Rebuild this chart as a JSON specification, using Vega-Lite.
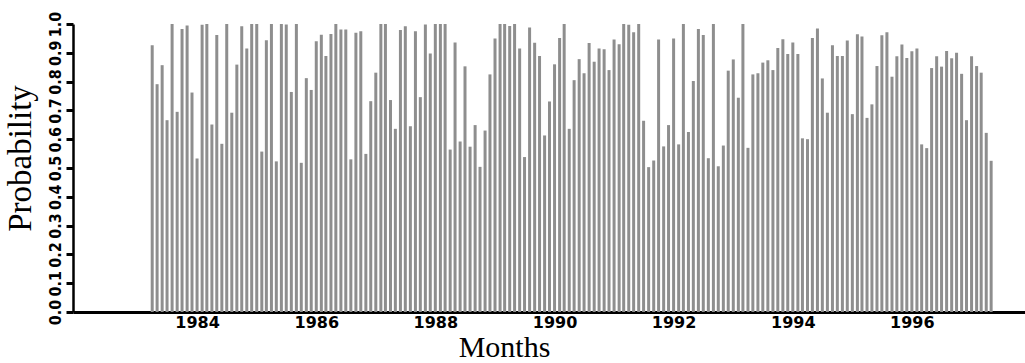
{
  "$schema": "https://vega.github.io/schema/vega-lite/v6.json",
  "width": 952,
  "height": 288,
  "autosize": {"type": "none"},
  "padding": {"left": 73, "top": 24, "right": 0, "bottom": 51},
  "background": "white",
  "view": {"stroke": null},
  "data": {
    "values": [
      {"month": "1983-04-01", "p": 0.926}, {"month": "1983-05-01", "p": 0.791}, {"month": "1983-06-01", "p": 0.857},
      {"month": "1983-07-01", "p": 0.666}, {"month": "1983-08-01", "p": 1.0}, {"month": "1983-09-01", "p": 0.695},
      {"month": "1983-10-01", "p": 0.983}, {"month": "1983-11-01", "p": 0.995}, {"month": "1983-12-01", "p": 0.762},
      {"month": "1984-01-01", "p": 0.533}, {"month": "1984-02-01", "p": 0.997}, {"month": "1984-03-01", "p": 1.0},
      {"month": "1984-04-01", "p": 0.651}, {"month": "1984-05-01", "p": 0.962}, {"month": "1984-06-01", "p": 0.584},
      {"month": "1984-07-01", "p": 1.0}, {"month": "1984-08-01", "p": 0.692}, {"month": "1984-09-01", "p": 0.859},
      {"month": "1984-10-01", "p": 0.992}, {"month": "1984-11-01", "p": 0.915}, {"month": "1984-12-01", "p": 1.0},
      {"month": "1985-01-01", "p": 1.0}, {"month": "1985-02-01", "p": 0.557}, {"month": "1985-03-01", "p": 0.944},
      {"month": "1985-04-01", "p": 1.0}, {"month": "1985-05-01", "p": 0.523}, {"month": "1985-06-01", "p": 1.0},
      {"month": "1985-07-01", "p": 0.998}, {"month": "1985-08-01", "p": 0.764}, {"month": "1985-09-01", "p": 1.0},
      {"month": "1985-10-01", "p": 0.518}, {"month": "1985-11-01", "p": 0.812}, {"month": "1985-12-01", "p": 0.771},
      {"month": "1986-01-01", "p": 0.94}, {"month": "1986-02-01", "p": 0.963}, {"month": "1986-03-01", "p": 0.889},
      {"month": "1986-04-01", "p": 0.965}, {"month": "1986-05-01", "p": 1.0}, {"month": "1986-06-01", "p": 0.981},
      {"month": "1986-07-01", "p": 0.981}, {"month": "1986-08-01", "p": 0.53}, {"month": "1986-09-01", "p": 0.97},
      {"month": "1986-10-01", "p": 0.975}, {"month": "1986-11-01", "p": 0.549}, {"month": "1986-12-01", "p": 0.732},
      {"month": "1987-01-01", "p": 0.831}, {"month": "1987-02-01", "p": 1.0}, {"month": "1987-03-01", "p": 1.0},
      {"month": "1987-04-01", "p": 0.736}, {"month": "1987-05-01", "p": 0.636}, {"month": "1987-06-01", "p": 0.979},
      {"month": "1987-07-01", "p": 0.992}, {"month": "1987-08-01", "p": 0.645}, {"month": "1987-09-01", "p": 0.975},
      {"month": "1987-10-01", "p": 0.746}, {"month": "1987-11-01", "p": 0.998}, {"month": "1987-12-01", "p": 0.898},
      {"month": "1988-01-01", "p": 1.0}, {"month": "1988-02-01", "p": 1.0}, {"month": "1988-03-01", "p": 1.0},
      {"month": "1988-04-01", "p": 0.564}, {"month": "1988-05-01", "p": 0.936}, {"month": "1988-06-01", "p": 0.592},
      {"month": "1988-07-01", "p": 0.853}, {"month": "1988-08-01", "p": 0.574}, {"month": "1988-09-01", "p": 0.649},
      {"month": "1988-10-01", "p": 0.504}, {"month": "1988-11-01", "p": 0.63}, {"month": "1988-12-01", "p": 0.825},
      {"month": "1989-01-01", "p": 0.95}, {"month": "1989-02-01", "p": 1.0}, {"month": "1989-03-01", "p": 1.0},
      {"month": "1989-04-01", "p": 0.993}, {"month": "1989-05-01", "p": 1.0}, {"month": "1989-06-01", "p": 0.915},
      {"month": "1989-07-01", "p": 0.538}, {"month": "1989-08-01", "p": 0.988}, {"month": "1989-09-01", "p": 0.935},
      {"month": "1989-10-01", "p": 0.889}, {"month": "1989-11-01", "p": 0.613}, {"month": "1989-12-01", "p": 0.731},
      {"month": "1990-01-01", "p": 0.86}, {"month": "1990-02-01", "p": 0.951}, {"month": "1990-03-01", "p": 1.0},
      {"month": "1990-04-01", "p": 0.636}, {"month": "1990-05-01", "p": 0.805}, {"month": "1990-06-01", "p": 0.878},
      {"month": "1990-07-01", "p": 0.829}, {"month": "1990-08-01", "p": 0.934}, {"month": "1990-09-01", "p": 0.869},
      {"month": "1990-10-01", "p": 0.915}, {"month": "1990-11-01", "p": 0.912}, {"month": "1990-12-01", "p": 0.84},
      {"month": "1991-01-01", "p": 0.946}, {"month": "1991-02-01", "p": 0.93}, {"month": "1991-03-01", "p": 1.0},
      {"month": "1991-04-01", "p": 0.997}, {"month": "1991-05-01", "p": 0.971}, {"month": "1991-06-01", "p": 1.0},
      {"month": "1991-07-01", "p": 0.664}, {"month": "1991-08-01", "p": 0.503}, {"month": "1991-09-01", "p": 0.526},
      {"month": "1991-10-01", "p": 0.946}, {"month": "1991-11-01", "p": 0.575}, {"month": "1991-12-01", "p": 0.649},
      {"month": "1992-01-01", "p": 0.95}, {"month": "1992-02-01", "p": 0.582}, {"month": "1992-03-01", "p": 1.0},
      {"month": "1992-04-01", "p": 0.625}, {"month": "1992-05-01", "p": 0.802}, {"month": "1992-06-01", "p": 0.983},
      {"month": "1992-07-01", "p": 0.962}, {"month": "1992-08-01", "p": 0.534}, {"month": "1992-09-01", "p": 1.0},
      {"month": "1992-10-01", "p": 0.506}, {"month": "1992-11-01", "p": 0.578}, {"month": "1992-12-01", "p": 0.838},
      {"month": "1993-01-01", "p": 0.877}, {"month": "1993-02-01", "p": 0.744}, {"month": "1993-03-01", "p": 1.0},
      {"month": "1993-04-01", "p": 0.57}, {"month": "1993-05-01", "p": 0.825}, {"month": "1993-06-01", "p": 0.829},
      {"month": "1993-07-01", "p": 0.866}, {"month": "1993-08-01", "p": 0.874}, {"month": "1993-09-01", "p": 0.84},
      {"month": "1993-10-01", "p": 0.917}, {"month": "1993-11-01", "p": 0.947}, {"month": "1993-12-01", "p": 0.896},
      {"month": "1994-01-01", "p": 0.936}, {"month": "1994-02-01", "p": 0.896}, {"month": "1994-03-01", "p": 0.603},
      {"month": "1994-04-01", "p": 0.6}, {"month": "1994-05-01", "p": 0.951}, {"month": "1994-06-01", "p": 0.984},
      {"month": "1994-07-01", "p": 0.811}, {"month": "1994-08-01", "p": 0.692}, {"month": "1994-09-01", "p": 0.926},
      {"month": "1994-10-01", "p": 0.889}, {"month": "1994-11-01", "p": 0.889}, {"month": "1994-12-01", "p": 0.943},
      {"month": "1995-01-01", "p": 0.687}, {"month": "1995-02-01", "p": 0.964}, {"month": "1995-03-01", "p": 0.957},
      {"month": "1995-04-01", "p": 0.674}, {"month": "1995-05-01", "p": 0.721}, {"month": "1995-06-01", "p": 0.854},
      {"month": "1995-07-01", "p": 0.961}, {"month": "1995-08-01", "p": 0.971}, {"month": "1995-09-01", "p": 0.817},
      {"month": "1995-10-01", "p": 0.888}, {"month": "1995-11-01", "p": 0.929}, {"month": "1995-12-01", "p": 0.882},
      {"month": "1996-01-01", "p": 0.905}, {"month": "1996-02-01", "p": 0.915}, {"month": "1996-03-01", "p": 0.582},
      {"month": "1996-04-01", "p": 0.569}, {"month": "1996-05-01", "p": 0.847}, {"month": "1996-06-01", "p": 0.888},
      {"month": "1996-07-01", "p": 0.852}, {"month": "1996-08-01", "p": 0.906}, {"month": "1996-09-01", "p": 0.881},
      {"month": "1996-10-01", "p": 0.9}, {"month": "1996-11-01", "p": 0.827}, {"month": "1996-12-01", "p": 0.666},
      {"month": "1997-01-01", "p": 0.888}, {"month": "1997-02-01", "p": 0.854}, {"month": "1997-03-01", "p": 0.831},
      {"month": "1997-04-01", "p": 0.622}, {"month": "1997-05-01", "p": 0.525}
    ]
  },
  "mark": {"type": "bar", "width": 3, "color": "#8e8e8e"},
  "encoding": {
    "x": {
      "field": "month",
      "type": "temporal",
      "scale": {
        "type": "utc",
        "nice": false,
        "domain": [
          {"year": 1982, "month": 1, "date": 1, "utc": true},
          {"year": 1997, "month": 10, "date": 25, "utc": true}
        ]
      },
      "axis": {
        "values": [
          {"year": 1984, "month": 1, "date": 1, "utc": true},
          {"year": 1986, "month": 1, "date": 1, "utc": true},
          {"year": 1988, "month": 1, "date": 1, "utc": true},
          {"year": 1990, "month": 1, "date": 1, "utc": true},
          {"year": 1992, "month": 1, "date": 1, "utc": true},
          {"year": 1994, "month": 1, "date": 1, "utc": true},
          {"year": 1996, "month": 1, "date": 1, "utc": true}
        ],
        "format": "%Y",
        "formatType": "utc",
        "ticks": false,
        "grid": false,
        "domainColor": "black",
        "domainWidth": 3,
        "labelFont": "DejaVu Sans",
        "labelFontWeight": "bold",
        "labelFontSize": 16,
        "labelColor": "black",
        "labelPadding": 2,
        "labelOverlap": false,
        "title": "Months",
        "titleFont": "Liberation Serif",
        "titleFontSize": 30,
        "titleFontWeight": "normal",
        "titleColor": "black",
        "titleX": 431,
        "titleY": 44,
        "titleAlign": "center",
        "titleBaseline": "alphabetic"
      }
    },
    "y": {
      "field": "p",
      "type": "quantitative",
      "scale": {"domain": [0, 1], "nice": false},
      "axis": {
        "values": [0, 0.1, 0.2, 0.3, 0.4, 0.5, 0.6, 0.7, 0.8, 0.9, 1.0],
        "format": ".1f",
        "ticks": true,
        "tickSize": 7,
        "tickWidth": 3,
        "tickColor": "black",
        "grid": false,
        "domainColor": "black",
        "domainWidth": 2.5,
        "labelAngle": -90,
        "labelAlign": "center",
        "labelBaseline": "bottom",
        "labelFont": "DejaVu Sans Condensed, DejaVu Sans",
        "labelFontWeight": "bold",
        "labelFontSize": 16,
        "labelColor": "black",
        "labelPadding": 3,
        "labelOverlap": false,
        "labelFlush": false,
        "title": "Probability",
        "titleFont": "Liberation Serif",
        "titleFontSize": 33,
        "titleFontWeight": "normal",
        "titleColor": "black",
        "titleAngle": -90,
        "titleX": -53,
        "titleY": 134,
        "titleAlign": "center",
        "titleBaseline": "middle"
      }
    }
  }
}
